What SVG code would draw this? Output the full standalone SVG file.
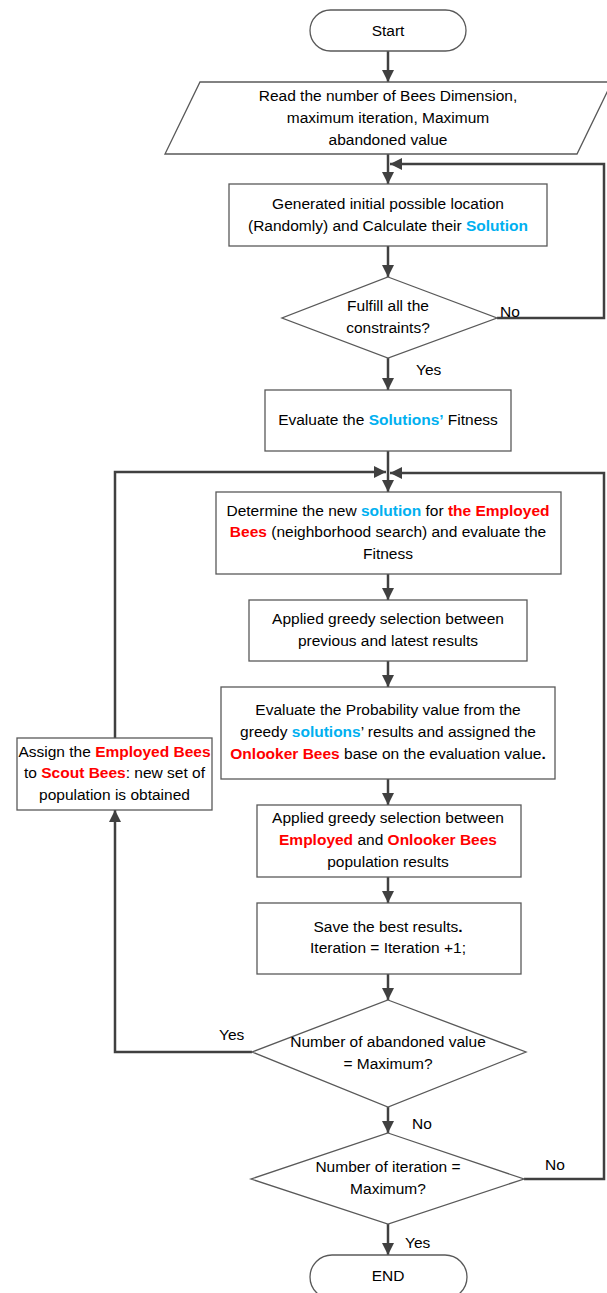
<svg xmlns="http://www.w3.org/2000/svg" width="607" height="1293" viewBox="0 0 607 1293">
<style>
text{font-family:"Liberation Sans",Arial,sans-serif;font-size:15.5px;fill:#000;text-anchor:middle}
.lbl{text-anchor:start}
.b{fill:#00b0f0;font-weight:bold}
.r{fill:#ff0000;font-weight:bold}
.shape{fill:#fff;stroke:#595959;stroke-width:1.3}
.con{fill:none;stroke:#404040;stroke-width:2.5;marker-end:url(#ah)}
</style>
<defs>
<marker id="ah" markerUnits="userSpaceOnUse" markerWidth="14" markerHeight="14" refX="12" refY="6" orient="auto">
<path d="M0,0 L12,6 L0,12 z" fill="#404040"/>
</marker>
</defs>
<rect width="607" height="1293" fill="#fff"/>
<g id="connectors">
<path class="con" d="M388,51 V82"/>
<path class="con" d="M388,154 V184"/>
<path class="con" d="M497,318 H604 V164 H390"/>
<path class="con" d="M388,246 V277"/>
<path class="con" d="M388,358 V390"/>
<path class="con" d="M388,451 V492"/>
<path class="con" d="M115,738 V472 H386"/>
<path class="con" d="M524,1179 H604 V473 H390"/>
<path class="con" d="M388,574 V600"/>
<path class="con" d="M388,661 V687"/>
<path class="con" d="M388,779 V805"/>
<path class="con" d="M388,877 V903"/>
<path class="con" d="M388,974 V1000"/>
<path class="con" d="M252,1052 H115 V810"/>
<path class="con" d="M388,1107 V1133"/>
<path class="con" d="M388,1224 V1255"/>
<text class="lbl" x="500" y="317">No</text>
<text class="lbl" x="416" y="375">Yes</text>
<text class="lbl" x="219" y="1040">Yes</text>
<text class="lbl" x="412" y="1129">No</text>
<text class="lbl" x="545" y="1170">No</text>
<text class="lbl" x="405" y="1248">Yes</text>
</g>
<g id="start">
<rect class="shape" x="310" y="10" width="156" height="41" rx="20.5"/>
<text x="388" y="36">Start</text>
</g>
<g id="read">
<path class="shape" d="M200,82 L612,82 L577,154 L165,154 Z"/>
<text x="388" y="101">Read the number of Bees Dimension,</text>
<text x="388" y="123">maximum iteration, Maximum</text>
<text x="388" y="145">abandoned value</text>
</g>
<g id="generate">
<rect class="shape" x="229" y="184" width="318" height="62"/>
<text x="388" y="209">Generated initial possible location</text>
<text x="388" y="231">(Randomly) and Calculate their <tspan class="b">Solution</tspan></text>
</g>
<g id="fulfill">
<path class="shape" d="M388,277 L497,318 L388,358 L282,318 Z"/>
<text x="388" y="311">Fulfill all the</text>
<text x="388" y="333">constraints?</text>
</g>
<g id="evalfit">
<rect class="shape" x="265" y="390" width="246" height="61"/>
<text x="388" y="425">Evaluate the <tspan class="b">Solutions’</tspan> Fitness</text>
</g>
<g id="employed">
<rect class="shape" x="216" y="492" width="345" height="82"/>
<text x="388" y="516">Determine the new <tspan class="b">solution</tspan> for <tspan class="r">the Employed</tspan></text>
<text x="388" y="537"><tspan class="r">Bees</tspan> (neighborhood search) and evaluate the</text>
<text x="388" y="559">Fitness</text>
</g>
<g id="greedy1">
<rect class="shape" x="249" y="600" width="278" height="61"/>
<text x="388" y="624">Applied greedy selection between</text>
<text x="388" y="646">previous and latest results</text>
</g>
<g id="probability">
<rect class="shape" x="221" y="687" width="334" height="92"/>
<text x="388" y="715">Evaluate the Probability value from the</text>
<text x="388" y="737">greedy <tspan class="b">solutions</tspan>’ results and assigned the</text>
<text x="388" y="759"><tspan class="r">Onlooker Bees</tspan> base on the evaluation value<tspan font-weight="bold">.</tspan></text>
</g>
<g id="scout">
<rect class="shape" x="17" y="738" width="195" height="72"/>
<text x="114.5" y="757">Assign the <tspan class="r">Employed Bees</tspan></text>
<text x="114.5" y="778">to <tspan class="r">Scout Bees</tspan>: new set of</text>
<text x="114.5" y="800">population is obtained</text>
</g>
<g id="greedy2">
<rect class="shape" x="257" y="805" width="264" height="72"/>
<text x="388" y="823">Applied greedy selection between</text>
<text x="388" y="845"><tspan class="r">Employed</tspan> and <tspan class="r">Onlooker Bees</tspan></text>
<text x="388" y="867">population results</text>
</g>
<g id="save">
<rect class="shape" x="257" y="903" width="264" height="71"/>
<text x="388" y="932">Save the best results<tspan font-weight="bold">.</tspan></text>
<text x="388" y="953">Iteration = Iteration +1;</text>
</g>
<g id="abandoned">
<path class="shape" d="M388,1000 L526,1052 L388,1107 L252,1052 Z"/>
<text x="388" y="1047">Number of abandoned value</text>
<text x="388" y="1069">= Maximum?</text>
</g>
<g id="iteration">
<path class="shape" d="M388,1133 L524,1179 L388,1224 L251,1179 Z"/>
<text x="388" y="1172">Number of iteration =</text>
<text x="388" y="1194">Maximum?</text>
</g>
<g id="end">
<rect class="shape" x="310" y="1255" width="157" height="44" rx="22"/>
<text x="388" y="1281">END</text>
</g>
</svg>
